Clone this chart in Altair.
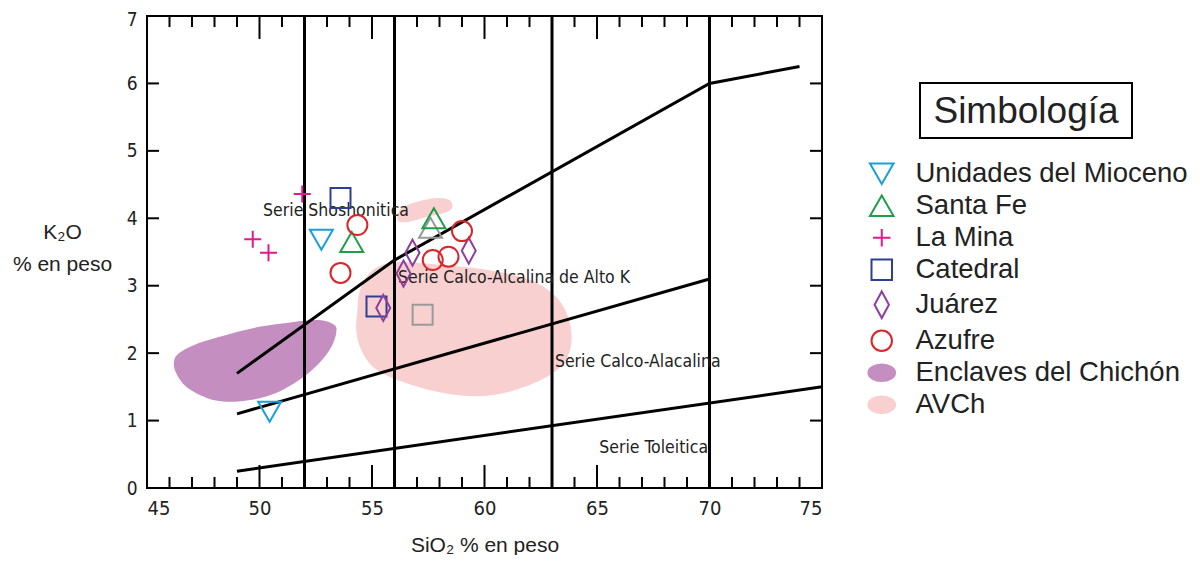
import altair as alt
import pandas as pd

FONT_N = "Liberation Sans Narrow, Arial Narrow, DejaVu Sans Condensed, Liberation Sans, sans-serif"
FONT = "Liberation Sans, Arial, sans-serif"

# ---------------- data ----------------
series = ["Unidades del Mioceno", "Santa Fe", "La Mina", "Catedral", "Juárez",
          "Azufre", "Enclaves del Chichón", "AVCh"]
stroke_colors = ["#1a9fd9", "#1f9e4a", "#e2198c", "#2e3e95", "#8e3f9e",
                 "#d9262a", "#c48fc0", "#f8d0d0"]
fill_colors = ["transparent"] * 6 + ["#c48fc0", "#f8d0d0"]
shapes = [
    "M-1.15,-1L1.15,-1L0,1Z",
    "M-1.15,1L1.15,1L0,-1Z",
    "M-0.85,0L0.85,0M0,-0.85L0,0.85",
    "square",
    "M0,-1.3L0.7,0L0,1.3L-0.7,0Z",
    "circle",
    "M-1.3,0A1.3,0.8 0 1,1 1.3,0A1.3,0.8 0 1,1 -1.3,0Z",
    "M-1.3,0A1.3,0.8 0 1,1 1.3,0A1.3,0.8 0 1,1 -1.3,0Z",
]

mioceno_x = [52.75, 50.45]
mioceno_y = [3.68, 1.13]
santafe_x = [54.1, 57.75]
santafe_y = [3.65, 4.0]
lamina_x = [51.9, 49.7, 50.4]
lamina_y = [4.36, 3.69, 3.49]
catedral_x = [53.6, 55.2]
catedral_y = [4.3, 2.69]
juarez_x = [55.5, 56.4, 56.8, 59.3]
juarez_y = [2.67, 3.18, 3.49, 3.52]
azufre_x = [54.35, 53.6, 57.7, 58.4, 59.0]
azufre_y = [3.9, 3.19, 3.38, 3.43, 3.81]
gray_tri_x = [57.6]
gray_tri_y = [3.86]
gray_sq_x = [57.25]
gray_sq_y = [2.57]

enclaves_x = [46.2, 46.42, 47.31, 48.52, 49.98, 51.45, 52.65, 53.32, 53.41, 53.19,
              52.65, 51.76, 50.74, 49.67, 48.52, 47.63, 46.74, 46.29]
enclaves_y = [1.87, 2.0, 2.15, 2.27, 2.39, 2.46, 2.49, 2.42, 2.3, 2.09,
              1.85, 1.6, 1.41, 1.31, 1.28, 1.34, 1.5, 1.71]
avch_main_x = [54.43, 54.75, 55.32, 56.22, 58.0, 60.22, 62.0, 63.11, 63.69, 63.87,
               63.56, 62.67, 61.33, 59.78, 58.0, 56.22, 55.1, 54.52, 54.3, 54.35]
avch_main_y = [2.89, 3.13, 3.29, 3.35, 3.31, 3.23, 3.09, 2.86, 2.56, 2.19,
               1.87, 1.63, 1.45, 1.36, 1.42, 1.59, 1.78, 2.05, 2.34, 2.64]
avch_small_x = [56.13, 56.3, 56.97, 57.86, 58.44, 58.57, 58.31, 57.42, 56.66, 56.21]
avch_small_y = [4.02, 4.15, 4.24, 4.3, 4.27, 4.17, 4.09, 4.02, 3.95, 3.95]

sho_x = [49, 56, 70, 74]
sho_y = [1.7, 3.38, 6.0, 6.25]
hk_x = [49, 70]
hk_y = [1.1, 3.1]
th_x = [49, 75]
th_y = [0.25, 1.5]
vlines_x = [52, 56, 63, 70]

label_text = ["Serie Shoshonitica", "Serie Calco-Alcalina de Alto K",
              "Serie Calco-Alacalina", "Serie Toleitica"]
label_x = [50.16, 56.16, 63.13, 65.1]
label_y = [4.11, 3.12, 1.87, 0.59]

x_ticks_labels = [45, 50, 55, 60, 65, 70, 75]
y_ticks_labels = [0, 1, 2, 3, 4, 5, 6, 7]
x_minor = [46, 47, 48, 49, 51, 52, 53, 54, 56, 57, 58, 59, 61, 62, 63, 64,
           66, 67, 68, 69, 71, 72, 73, 74]
x_major = [50, 55, 60, 65, 70]
y_minor = [1, 2, 3, 4, 5, 6]

# ---------------- tables ----------------
pts = []
for name, xv, yv in [(series[0], mioceno_x, mioceno_y), (series[1], santafe_x, santafe_y),
                     (series[2], lamina_x, lamina_y), (series[3], catedral_x, catedral_y),
                     (series[4], juarez_x, juarez_y), (series[5], azufre_x, azufre_y)]:
    for a, b in zip(xv, yv):
        pts.append({"serie": name, "x": a, "y": b})
pts_df = pd.DataFrame(pts)

blobs = []
for name, part, xv, yv in [(series[6], "e", enclaves_x, enclaves_y),
                           (series[7], "a1", avch_main_x, avch_main_y),
                           (series[7], "a2", avch_small_x, avch_small_y)]:
    for i, (a, b) in enumerate(zip(xv, yv)):
        blobs.append({"serie": name, "part": part, "i": i, "x": a, "y": b})
blob_df = pd.DataFrame(blobs)

lines = []
for name, xv, yv in [("sho", sho_x, sho_y), ("hk", hk_x, hk_y), ("th", th_x, th_y)]:
    for i, (a, b) in enumerate(zip(xv, yv)):
        lines.append({"line": name, "i": i, "x": a, "y": b})
lines_df = pd.DataFrame(lines)

W, H = 675, 472
xs = alt.Scale(domain=[45, 75], nice=False, zero=False)
ys = alt.Scale(domain=[0, 7], nice=False, zero=True)

x_axis = alt.Axis(values=x_ticks_labels, title="SiO₂ % en peso",
                  titleFontSize=21, titleY=63, titleBaseline="alphabetic",
                  labelPadding=10, grid=False, ticks=False, domain=False)
y_axis = alt.Axis(values=y_ticks_labels, title=["K₂O", "% en peso"],
                  titleAngle=0, titleAlign="center", titleBaseline="alphabetic",
                  titleX=-85, titleY=222, titleFontSize=21, titleLineHeight=32,
                  labelPadding=10, labelFontSize=19,
                  labelOffset={"condition": {"test": "datum.value == 7", "value": 3}, "value": 0},
                  grid=False, ticks=False, domain=False)

X = alt.X("x:Q", scale=xs, axis=x_axis)
Y = alt.Y("y:Q", scale=ys, axis=y_axis)

leg = alt.Legend(orient="none", legendX=721, legendY=144, title=None,
                 labelFontSize=27.5, labelFont=FONT, labelColor="#222",
                 labelOffset=20, rowPadding=3, symbolSize=420,
                 symbolStrokeWidth=2, labelLimit=400, padding=0)

stroke_enc = alt.Stroke("serie:N", scale=alt.Scale(domain=series, range=stroke_colors), legend=leg)
fill_enc = alt.Fill("serie:N", scale=alt.Scale(domain=series, range=fill_colors), legend=leg)
shape_enc = alt.Shape("serie:N", scale=alt.Scale(domain=series, range=shapes), legend=leg)

blob_layer = alt.Chart(blob_df).mark_line(
    interpolate="cardinal-closed", strokeWidth=0
).encode(x=X, y=Y, detail="part:N", order="i:Q", fill=fill_enc)

vline_layer = alt.Chart(pd.DataFrame({"x": vlines_x})).mark_rule(
    color="black", strokeWidth=3
).encode(x=X)

series_lines = alt.Chart(lines_df).mark_line(color="black", strokeWidth=3).encode(
    x=X, y=Y, detail="line:N", order="i:Q",
)

def xticks(vals, y0, y1):
    return alt.Chart(pd.DataFrame({"x": vals})).mark_rule(color="black", strokeWidth=2).encode(
        x=X, y=alt.value(y0), y2=alt.value(y1))

def yticks(vals, x0, x1):
    return alt.Chart(pd.DataFrame({"y": vals})).mark_rule(color="black", strokeWidth=2).encode(
        y=Y, x=alt.value(x0), x2=alt.value(x1))

tick_layers = [
    xticks(x_minor, H, H - 11), xticks(x_major, H, H - 23),
    xticks(x_minor, 0, 11), xticks(x_major, 0, 23),
    yticks(y_minor, 0, 12), yticks(y_minor, W, W - 12),
]

labels = alt.Chart(pd.DataFrame({"t": label_text, "x": label_x, "y": label_y})).mark_text(
    align="left", baseline="middle", font=FONT_N, fontSize=17.5, color="#222"
).encode(x=X, y=Y, text="t:N")

points = alt.Chart(pts_df).mark_point(size=400, strokeWidth=2, opacity=1).encode(
    x=X, y=Y, stroke=stroke_enc, fill=fill_enc, shape=shape_enc,
)

gray_tri = alt.Chart(pd.DataFrame({"x": gray_tri_x, "y": gray_tri_y})).mark_point(
    shape=shapes[1], size=400, strokeWidth=2, opacity=1, stroke="#999999", fill="transparent"
).encode(x=X, y=Y)

gray_sq = alt.Chart(pd.DataFrame({"x": gray_sq_x, "y": gray_sq_y})).mark_point(
    shape="square", size=400, strokeWidth=2, opacity=1, stroke="#999999", fill="transparent"
).encode(x=X, y=Y)

title_df = pd.DataFrame({"t": ["Simbología"]})
box = alt.Chart(title_df).mark_rect(
    fill="white", stroke="black", strokeWidth=2
).encode(x=alt.value(773), x2=alt.value(985), y=alt.value(67), y2=alt.value(122))
box_text = alt.Chart(title_df).mark_text(
    font=FONT, fontSize=37, color="#222", align="center", baseline="middle"
).encode(x=alt.value(879), y=alt.value(96), text="t:N")

chart = alt.layer(
    blob_layer, vline_layer, series_lines, *tick_layers, labels,
    gray_tri, gray_sq, points, box, box_text
).properties(
    width=W, height=H,
    autosize=alt.AutoSizeParams(type="none"),
    padding={"left": 139, "top": 8, "right": 370, "bottom": 67},
    background="white",
).configure_view(
    stroke="black", strokeWidth=2
).configure_axis(
    labelFont=FONT_N, labelFontSize=20, labelColor="#222",
    titleFont=FONT, titleFontWeight="normal", titleColor="#222",
)

chart.save("out.html", embed_options={"renderer": "svg", "actions": False})
